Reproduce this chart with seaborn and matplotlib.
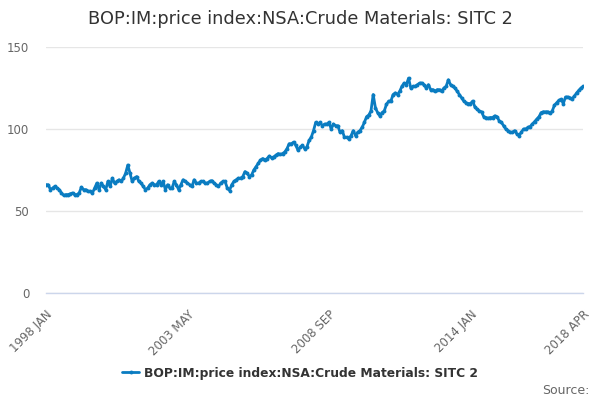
import numpy as np
import pandas as pd
import matplotlib
matplotlib.use("Agg")
import matplotlib.pyplot as plt
import seaborn as sns

# monthly index values, 1998 JAN .. 2018 APR
vals_1998_2001 = [66, 66, 63, 64, 65, 64, 63, 61, 59.5, 60, 60, 60.5,
                  61, 60, 60, 61, 64.5, 63, 63, 62, 62, 61, 64, 67,
                  63, 67, 65, 63, 68, 65, 70, 67, 68, 69, 68, 70,
                  73, 78, 73, 68, 70, 71, 68, 67, 65, 63, 64, 66]
vals_2002_2005 = [67, 66, 66, 68, 66, 68, 63, 66, 64, 64, 68, 66,
                  63, 66, 69, 68, 67, 66, 65, 69, 67, 67, 68, 68,
                  67, 67, 68, 68.5, 67, 66, 65, 67, 68, 68, 64, 62.5,
                  66, 68, 69, 70, 70, 71, 74, 73, 71, 72, 75, 77]
vals_2006_2009 = [79, 81, 82, 81, 82, 83.5, 82.5, 83, 84, 85, 84.5, 85,
                  86, 88, 91, 91, 92, 90, 87, 89, 90, 88, 89, 93,
                  95, 99, 104, 103, 104, 102, 103, 103, 104, 100, 103, 102,
                  102, 98, 99, 95, 95, 94, 96, 99, 96, 98, 99, 101]
vals_2010_2013 = [104, 107.5, 108.5, 111, 121, 113, 110, 108, 110, 111, 115, 117,
                  117, 121, 122, 121, 123, 126, 128, 127, 131, 125, 126, 126,
                  127, 128, 128, 127, 125, 127, 124, 124, 123, 124, 124, 123,
                  125, 126, 130, 127, 126, 125, 123, 121, 119, 117, 116, 115.5]
vals_2014_2018 = [115.5, 117, 113.5, 112, 111, 110.5, 107.5, 107, 106.5, 107, 107, 108,
                  107.5, 105, 104, 102, 100, 99, 98, 98, 99, 97, 96, 98,
                  100, 100, 101, 101.5, 103, 104.5, 106, 107.5, 110, 110.5, 110.5, 110.5,
                  109.5, 111, 114.5, 116, 117.5, 118, 115.5, 119.5, 119.5, 119, 118.5, 120,
                  122, 123.5, 125, 126]

values = vals_1998_2001 + vals_2002_2005 + vals_2006_2009 + vals_2010_2013 + vals_2014_2018
label_months = ["1998 JAN", "2003 MAY", "2008 SEP", "2014 JAN", "2018 APR"]

series_name = "BOP:IM:price index:NSA:Crude Materials: SITC 2"
df = pd.DataFrame({"idx": np.arange(len(values)), "value": values})

sns.set_style("white")
plt.rcParams["font.family"] = ["DejaVu Sans"]

fig = plt.figure(figsize=(6, 4), dpi=100)
ax = fig.add_axes([0.0767, 0.2675, 0.8953, 0.615])

line_color = "#0a7cc1"
sns.lineplot(data=df, x="idx", y="value", ax=ax, color=line_color, linewidth=2,
             marker="o", markersize=2.8, markeredgewidth=0, label=series_name)

ax.set_xlim(0, len(values) - 1)
ax.set_ylim(0, 150)
ax.set_yticks([0, 50, 100, 150])
ax.grid(axis="y", color="#e6e6e6", linewidth=1)
ax.set_axisbelow(True)

# x ticks every 16 months, labels every fourth, last tick at final month
tick_pos = list(range(0, len(values) - 4, 16)) + [len(values) - 1]
ax.set_xticks(tick_pos)
lab_pos = [0, 64, 128, 192, len(values) - 1]
tick_labels = [label_months[lab_pos.index(p)] if p in lab_pos else "" for p in tick_pos]
ax.set_xticklabels(tick_labels, rotation=45, ha="right", rotation_mode="anchor")

for s in ["top", "right", "left"]:
    ax.spines[s].set_visible(False)
ax.spines["bottom"].set_color("#ccd6eb")
ax.spines["bottom"].set_linewidth(1)
ax.tick_params(axis="x", colors="#ccd6eb", length=9, width=1, labelcolor="#666666",
               labelsize=8.5, pad=2)
ax.tick_params(axis="y", length=0, labelcolor="#666666", labelsize=8.5, pad=12)
ax.set_xlabel("")
ax.set_ylabel("")

fig.suptitle(series_name, x=0.5, y=0.975, fontsize=12.8, color="#333333")

handles, labels = ax.get_legend_handles_labels()
ax.get_legend().remove()
fig.legend(handles, labels, loc="center", bbox_to_anchor=(0.5, 0.067), frameon=False,
           prop={"weight": "bold", "size": 8.8}, labelcolor="#333333",
           handlelength=1.4, handletextpad=0.4)

fig.text(0.982, 0.025, "Source:", ha="right", va="center", fontsize=9, color="#666666")

fig.savefig("out.png", dpi=100)
